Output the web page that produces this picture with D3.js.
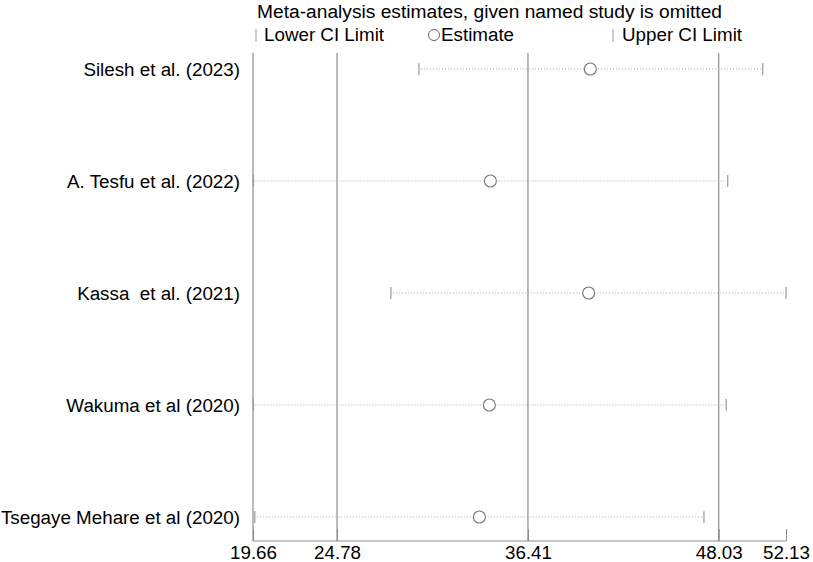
<!DOCTYPE html>
<html>
<head>
<meta charset="utf-8">
<script src="https://cdn.jsdelivr.net/npm/d3@7"></script>
<style>
  html, body { margin: 0; padding: 0; background: #fff; }
  svg { display: block; font-family: "Liberation Sans", Arial, sans-serif; }
  svg text { white-space: pre; }
</style>
</head>
<body>
<svg id="chart"></svg>
<script>
// studies omitted one at a time
const studies = [
  "Silesh et al. (2023)",
  "A. Tesfu et al. (2022)",
  "Kassa  et al. (2021)",
  "Wakuma et al (2020)",
  "Tsegaye Mehare et al (2020)"
];
const estimates = [40.21, 34.12, 40.11, 34.06, 33.45];
const lowerCI = [29.77, 19.69, 28.06, 19.68, 19.77];
const upperCI = [50.71, 48.58, 52.13, 48.49, 47.13];
const tickValues = [19.66, 24.78, 36.41, 48.03, 52.13];
const refLines = [19.66, 24.78, 36.41, 48.03];

const width = 813, height = 562;
const margin = { top: 53, right: 27, bottom: 21, left: 253 };
const fontSize = 18.8;

const svg = d3.select("#chart").attr("width", width).attr("height", height);

const x = d3.scaleLinear()
  .domain([19.66, 52.13])
  .range([margin.left, width - margin.right]);

const y = d3.scalePoint()
  .domain(studies)
  .range([69, 517]);

const axisY = height - margin.bottom;

// title + legend
svg.append("text")
  .attr("x", 257).attr("y", 18)
  .attr("font-size", 19.2).attr("fill", "#000")
  .text("Meta-analysis estimates, given named study is omitted");

const legend = svg.append("g").attr("class", "legend");
legend.append("line")
  .attr("x1", 256).attr("x2", 256).attr("y1", 29).attr("y2", 42)
  .attr("stroke", "#999");
legend.append("text").attr("x", 264).attr("y", 41)
  .attr("font-size", fontSize).attr("fill", "#000").text("Lower CI Limit");
legend.append("circle")
  .attr("cx", 434).attr("cy", 35).attr("r", 5.5)
  .attr("fill", "#fff").attr("stroke", "#666");
legend.append("text").attr("x", 441).attr("y", 41)
  .attr("font-size", fontSize).attr("fill", "#000").text("Estimate");
legend.append("line")
  .attr("x1", 613).attr("x2", 613).attr("y1", 29).attr("y2", 42)
  .attr("stroke", "#999");
legend.append("text").attr("x", 622).attr("y", 41)
  .attr("font-size", fontSize).attr("fill", "#000").text("Upper CI Limit");

// reference lines
svg.append("g").attr("class", "ref-lines")
  .selectAll("line")
  .data(refLines)
  .join("line")
  .attr("x1", d => x(d)).attr("x2", d => x(d))
  .attr("y1", margin.top).attr("y2", axisY)
  .attr("stroke", "#8c8c8c")
  .attr("stroke-width", 1.2);

// x axis
const xAxis = d3.axisBottom(x)
  .tickValues(tickValues)
  .tickSize(-12)
  .tickFormat(d3.format(".2f"));

const axisG = svg.append("g")
  .attr("transform", `translate(0,${axisY})`)
  .call(xAxis);
axisG.select(".domain").attr("stroke", "#8c8c8c").attr("d", `M${x(19.66)},0H${x(52.13)}`);
axisG.selectAll(".tick line").attr("stroke", "#8c8c8c");
axisG.selectAll(".tick text")
  .attr("y", 5).attr("dy", "0.71em")
  .attr("font-size", fontSize)
  .attr("fill", "#000")
  .attr("font-family", "Liberation Sans, Arial, sans-serif");

// study rows
const rows = svg.append("g").attr("class", "rows")
  .selectAll("g")
  .data(studies.map((s, i) => ({ name: s, est: estimates[i], lo: lowerCI[i], hi: upperCI[i] })))
  .join("g");

rows.append("text")
  .attr("x", 240)
  .attr("y", d => y(d.name))
  .attr("dy", "0.35em")
  .attr("text-anchor", "end")
  .attr("font-size", fontSize)
  .attr("fill", "#000")
  .text(d => d.name);

rows.append("line")
  .attr("x1", d => x(d.lo) + 2).attr("x2", d => x(d.hi) - 2)
  .attr("y1", d => y(d.name)).attr("y2", d => y(d.name))
  .attr("stroke", "#aaa")
  .attr("stroke-width", 1)
  .attr("stroke-dasharray", "1,2");

rows.append("line")
  .attr("x1", d => x(d.lo)).attr("x2", d => x(d.lo))
  .attr("y1", d => y(d.name) - 6).attr("y2", d => y(d.name) + 6)
  .attr("stroke", "#999").attr("stroke-width", 1.2);

rows.append("line")
  .attr("x1", d => x(d.hi)).attr("x2", d => x(d.hi))
  .attr("y1", d => y(d.name) - 6).attr("y2", d => y(d.name) + 6)
  .attr("stroke", "#999").attr("stroke-width", 1.2);

rows.append("circle")
  .attr("cx", d => x(d.est))
  .attr("cy", d => y(d.name))
  .attr("r", 6)
  .attr("fill", "#fff")
  .attr("stroke", "#777")
  .attr("stroke-width", 1.1);
</script>
</body>
</html>
